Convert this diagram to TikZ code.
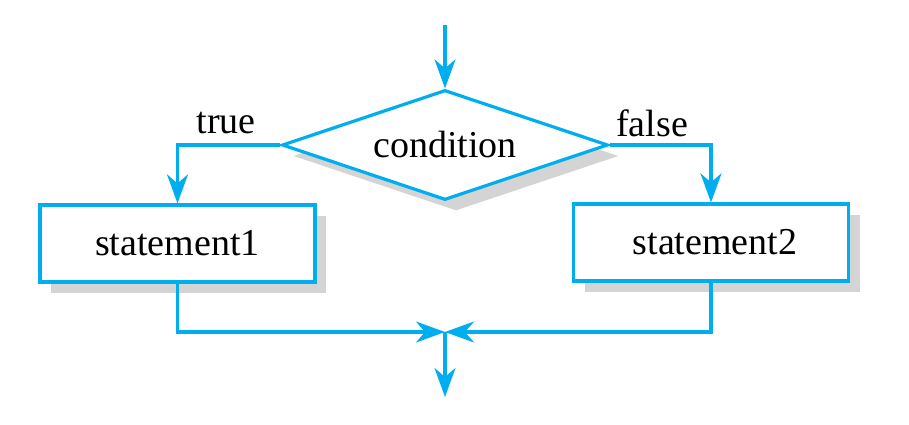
\documentclass[tikz,border=0pt]{standalone}
\usepackage{fontspec}
\setmainfont{Liberation Serif}
\usetikzlibrary{shapes.geometric,shadows,arrows.meta}
\definecolor{flowblue}{HTML}{00AEEF}
\definecolor{shade}{HTML}{D4D4D4}
\tikzset{
  shadowed/.style={drop shadow={shadow xshift=11pt,shadow yshift=-11pt,fill=shade,opacity=1}},
  decision/.style={diamond,aspect=2.96,draw=flowblue,line width=3.2pt,fill=white,inner sep=0pt,
    minimum width=326pt,minimum height=110pt,shadowed},
  stmt/.style={rectangle,draw=flowblue,line width=3.2pt,fill=white,inner sep=0pt,
    minimum width=275pt,minimum height=77pt,shadowed},
  flow/.style={draw=flowblue,line width=3.2pt,-{Stealth[length=29pt,width=21pt,inset=9pt]}}
}
\begin{document}
\begin{tikzpicture}[x=1pt,y=-1pt,font=\fontsize{38}{40}\selectfont]
\useasboundingbox (0,0) rectangle (909,425);

\coordinate (start) at (445,25);
\coordinate (join) at (445,332);
\coordinate (stop) at (445,397);

\node[decision] (cond) at (445,145) {condition};
\node[stmt] (s1) at (177.5,243.5) {statement1};
\node[stmt] (s2) at (711,242.5) {\hspace{8pt}statement2};

\node (tlabel) at (226,123) {true};
\node (flabel) at (652,123) {false};

\draw[flow] (start) -- (cond.north);
\draw[flow] (cond.west) -| (s1.north);
\draw[flow] (cond.east) -| (s2.north);
\draw[flow] (s1.south) |- (join);
\draw[flow] (s2.south) |- (join);
\draw[flow] (join) -- (stop);
\end{tikzpicture}
\end{document}
